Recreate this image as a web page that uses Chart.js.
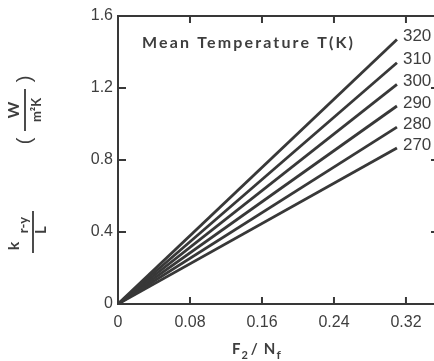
<!DOCTYPE html>
<html>
<head>
<meta charset="utf-8">
<script src="https://cdn.jsdelivr.net/npm/chart.js@4"></script>
<style>
  html, body { margin: 0; padding: 0; background: #fff; overflow: hidden; }
  #wrap { position: absolute; left: 0; top: 0; }
</style>
</head>
<body>
<div id="wrap"><canvas id="graphic1" width="440" height="361"></canvas></div>
<script>
// values
var temperatures = ["320", "310", "300", "290", "280", "270"]
var xValues = [0, 0.31]
var k320 = [0, 1.47]
var k310 = [0, 1.34]
var k300 = [0, 1.22]
var k290 = [0, 1.10]
var k280 = [0, 0.983]
var k270 = [0, 0.867]
var xTicks = [0, 0.08, 0.16, 0.24, 0.32]
var xTickLabels = ["0", "0.08", "0.16", "0.24", "0.32"]
var yTicks = [0, 0.4, 0.8, 1.2, 1.6]
var yTickLabels = ["0", "0.4", "0.8", "1.2", "1.6"]

var ink = "#383838"
var textInk = "#3e3e3e"

var series = [k320, k310, k300, k290, k280, k270]
var datasets = series.map(function (ys, i) {
    return {
        label: temperatures[i],
        data: xValues.map(function (x, j) { return { x: x, y: ys[j] } }),
        borderColor: ink,
        borderWidth: 2.8,
        pointRadius: 0,
        fill: false
    }
})

var decor = {
    id: "decor",
    afterDatasetsDraw: function (chart) {
        var c = chart.ctx
        var a = chart.chartArea
        var xs = chart.scales.x
        var ys = chart.scales.y
        c.save()
        c.strokeStyle = ink
        c.lineWidth = 2
        c.strokeRect(a.left, a.top, a.right - a.left, a.bottom - a.top)
        // inward ticks on all four sides
        xTicks.forEach(function (v) {
            var px = xs.getPixelForValue(v)
            c.beginPath()
            c.moveTo(px, a.bottom); c.lineTo(px, a.bottom - 7)
            c.moveTo(px, a.top); c.lineTo(px, a.top + 7)
            c.stroke()
        })
        yTicks.forEach(function (v) {
            var py = ys.getPixelForValue(v)
            c.beginPath()
            c.moveTo(a.left, py); c.lineTo(a.left + 8, py)
            c.moveTo(a.right, py); c.lineTo(a.right - 6, py)
            c.stroke()
        })

        // temperature labels at line ends
        c.fillStyle = textInk
        c.font = "17px 'Liberation Sans'"
        c.textBaseline = "middle"
        c.textAlign = "left"
        chart.data.datasets.forEach(function (ds, i) {
            var last = ds.data[ds.data.length - 1]
            c.fillText(ds.label, xs.getPixelForValue(last.x) + 6, ys.getPixelForValue(last.y) - 3)
        })

        // legend title inside the plot
        var title = "Mean Temperature T(K)"
        c.font = "bold 16px Lato"
        var w = c.measureText(title).width
        c.letterSpacing = ((211 - w) / (title.length - 1)) + "px"
        c.fillText(title, 142, 43)
        c.letterSpacing = "0px"

        // x axis title F2 / Nf
        c.textBaseline = "alphabetic"
        var x = 232
        c.font = "bold 15px Lato"
        c.fillText("F", x, 354); x += c.measureText("F").width + 1
        c.font = "bold 11px Lato"
        c.fillText("2", x, 359); x += c.measureText("2").width + 3
        c.font = "bold 15px Lato"
        c.fillText("/", x, 354); x += c.measureText("/").width + 6
        c.fillText("N", x, 354); x += c.measureText("N").width + 1
        c.font = "bold 12px Lato"
        c.fillText("f", x, 359)

        // y axis title, rotated
        c.textAlign = "center"
        c.textBaseline = "middle"
        c.save()
        c.translate(25, 110)
        c.rotate(-Math.PI / 2)
        c.font = "bold 16px Lato"
        c.fillText("W", 0, -11)
        c.font = "bold 13px Lato"
        c.fillText("m\u00b2K", 0, 12)
        c.lineWidth = 1.8
        c.beginPath(); c.moveTo(-21, 0); c.lineTo(21, 0); c.stroke()
        c.font = "20px 'Liberation Sans'"
        c.fillText("(", -31, 0)
        c.fillText(")", 31, 0)
        c.restore()

        c.save()
        c.translate(33, 232)
        c.rotate(-Math.PI / 2)
        c.font = "bold 16px Lato"
        c.fillText("k", -14, -19)
        c.font = "bold 13px Lato"
        c.fillText("r-y", 7, -9)
        c.font = "bold 15px Lato"
        c.fillText("L", 2, 8)
        c.lineWidth = 1.8
        c.beginPath(); c.moveTo(-21, 0); c.lineTo(21, 0); c.stroke()
        c.restore()

        c.restore()
    }
}

var graph = new Chart(document.getElementById("graphic1").getContext("2d"), {
    type: "line",
    data: { datasets: datasets },
    options: {
        responsive: false,
        animation: false,
        layout: { padding: { top: 16, right: 3, left: 0, bottom: 0 } },
        plugins: { legend: { display: false }, tooltip: { enabled: false } },
        scales: {
            x: {
                type: "linear",
                min: 0,
                max: 0.3545,
                afterBuildTicks: function (s) { s.ticks = xTicks.map(function (v) { return { value: v } }) },
                afterFit: function (s) { s.height = 57 },
                grid: { display: false, drawTicks: false },
                border: { display: false },
                ticks: {
                    padding: 9,
                    color: textInk,
                    font: { family: "Liberation Sans", size: 16 },
                    maxRotation: 0,
                    callback: function (v, i) { return xTickLabels[i] }
                }
            },
            y: {
                min: 0,
                max: 1.6,
                afterBuildTicks: function (s) { s.ticks = yTicks.map(function (v) { return { value: v } }) },
                afterFit: function (s) { s.width = 118 },
                grid: { display: false, drawTicks: false },
                border: { display: false },
                ticks: {
                    padding: 5,
                    color: textInk,
                    font: { family: "Liberation Sans", size: 16 },
                    callback: function (v, i) { return yTickLabels[i] }
                }
            }
        }
    },
    plugins: [decor]
})
</script>
</body>
</html>
